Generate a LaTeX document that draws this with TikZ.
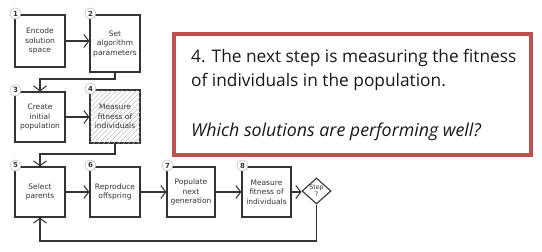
\documentclass[tikz,border=0pt]{standalone}
\usepackage{fontspec}
\setmainfont{Open Sans}
\newfontfamily\boxfont{DejaVu Sans}
\usetikzlibrary{arrows.meta,shapes.geometric,patterns.meta,calc}
\definecolor{ink}{HTML}{333333}
\definecolor{notered}{HTML}{C0504D}
\tikzset{
  stepbox/.style={draw=ink, line width=1.1pt, fill=white, inner sep=1pt,
    align=center, font=\boxfont\fontsize{7.5}{9.5}\selectfont, text=ink},
  badge/.style={circle, draw=black!25, line width=0.6pt, fill=white,
    minimum size=11pt, inner sep=0pt, font=\boxfont\bfseries\fontsize{7}{7}\selectfont, text=ink},
  flow/.style={draw=ink, line width=1.1pt, -{Straight Barb[length=5pt,width=13pt,line width=1pt]}},
  notetext/.style={anchor=base west, inner sep=0pt, font=\fontsize{17.3}{20}\selectfont, text=black!90},
}
\begin{document}
\begin{tikzpicture}[x=1pt,y=-1pt]
\useasboundingbox (0,0) rectangle (542,252);
\fill[white] (0,0) rectangle (542,252);

% process steps
\node[stepbox, minimum width=50pt, minimum height=52pt] (b1) at (40,41) {Encode\\solution\\space};
\node[stepbox, minimum width=50pt, minimum height=57pt] (b2) at (115,43.5) {Set\\algorithm\\parameters};
\node[stepbox, minimum width=50pt, minimum height=50pt] (b3) at (40,117) {Create\\initial\\population};
\node[stepbox, minimum width=50pt, minimum height=53pt,
      postaction={pattern={Lines[angle=45,distance=3.5pt,line width=0.4pt]}, pattern color=black!30}]
      (b4) at (115,116.5) {};
\node[font=\boxfont\fontsize{7.5}{9.5}\selectfont, align=center, text=ink, inner sep=0pt] (b4t) at (b4) {Measure\\fitness of\\individuals};
\node[stepbox, minimum width=50pt, minimum height=50pt] (b5) at (40,192) {Select\\parents};
\node[stepbox, minimum width=50pt, minimum height=50pt] (b6) at (115,192) {Reproduce\\offspring};
\node[stepbox, minimum width=48pt, minimum height=50pt] (b7) at (191,192) {Populate\\next\\generation};
\node[stepbox, minimum width=49pt, minimum height=50pt] (b8) at (266.5,192) {Measure\\fitness of\\individuals};
\node[draw=ink, line width=1.1pt, fill=white, diamond, minimum width=29pt, minimum height=24pt,
      inner sep=0pt, align=center, font=\boxfont\fontsize{6.3}{7}\selectfont, text=ink] (d) at (316.5,191) {Step\\?};

% step numbers
\foreach \b/\n in {b1/1,b2/2,b3/3,b4/4,b5/5,b6/6,b7/7,b8/8}
  \node[badge] (n\n) at ($(\b.north west)+(1,-1)$) {\n};

% connectors
\coordinate (j1) at (40,79);
\coordinate (j2) at (40,154);
\coordinate (fb) at (40,241);
\draw[flow] (b1.east) -- (b1.east -| b2.west);
\draw[flow] (b2.south) |- (j1) -- (b3.north);
\draw[flow] (b3.east) -- (b3.east -| b4.west);
\draw[flow] (b4.south) |- (j2) -- (b5.north);
\draw[flow] (b5.east) -- (b5.east -| b6.west);
\draw[flow] (b6.east) -- (b6.east -| b7.west);
\draw[flow] (b7.east) -- (b7.east -| b8.west);
\draw[flow] (b8.east) -- (b8.east -| d.west);
\draw[flow] (d.south) |- (fb) -- (b5.south);

% explanation panel
\node[draw=notered, line width=4pt, minimum width=357pt, minimum height=121pt, inner sep=0pt] (note) at (352.5,94.5) {};
\node[notetext] (l1) at (191,62) {4. The next step is measuring the fitness};
\node[notetext] (l2) at (191,86) {of individuals in the population.};
\node[notetext, font=\itshape\fontsize{17.8}{20}\selectfont] (l3) at (191,136) {Which solutions are performing well?};
\end{tikzpicture}
\end{document}
